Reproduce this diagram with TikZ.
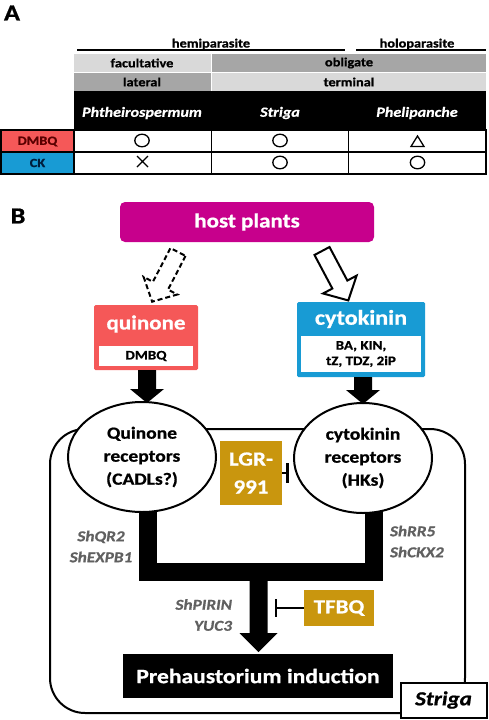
\documentclass[tikz,border=0pt]{standalone}
\usepackage{fontspec}
\setmainfont{Carlito}[FakeStretch=1.15, BoldFeatures={FakeBold=0.8}, BoldItalicFeatures={FakeBold=0.8}]
\usetikzlibrary{calc,shapes.geometric}
\definecolor{hostmag}{RGB}{199,0,140}
\definecolor{quinred}{RGB}{245,88,88}
\definecolor{ckblue}{RGB}{24,155,212}
\definecolor{goldbox}{RGB}{201,150,14}
\definecolor{lgray}{RGB}{217,217,217}
\definecolor{dgray}{RGB}{166,166,166}
\definecolor{genegray}{RGB}{96,96,96}
\definecolor{dmbqtxt}{RGB}{90,0,0}
\definecolor{cktxt}{RGB}{0,30,60}
\newcommand\fsz[2]{\fontsize{#1}{#2}\selectfont}
\begin{document}
\begin{tikzpicture}[x=1pt,y=-1pt,
  every node/.style={inner sep=0pt, outer sep=0pt},
  panel/.style={font=\fsz{23}{26}\bfseries},
  tabtxt/.style={font=\fsz{12.5}{15}\bfseries},
  species/.style={font=\fsz{14}{17}\bfseries\itshape, text=white},
  sym/.style={line width=1.3},
  gene/.style={font=\fsz{15}{21}\bfseries\itshape, text=genegray},
  recep/.style={ellipse, draw, fill=white, line width=2, minimum height=110, align=center, font=\fsz{17}{23}\bfseries},
  goldtag/.style={fill=goldbox, text=white, font=\fsz{20}{28}\bfseries, align=center},
  inhib/.style={line width=2.5},
  hollow/.style={line width=2, fill=white, line join=miter}
]
\useasboundingbox (0,0) rectangle (488,720);

% ---------------- Panel A ----------------
\node[panel] (A) at (12,13) {A};

\draw[line width=2.5] (77,50) -- (345,50);
\draw[line width=2.5] (356,50) -- (486,50);
\node[tabtxt, anchor=base] (hemi) at (211,47.5) {hemiparasite};
\node[tabtxt, anchor=base] (holo) at (417,47.5) {holoparasite};

\fill[lgray] (74,54) rectangle (211,72);
\fill[dgray] (211,54) rectangle (486,72);
\fill[dgray] (74,72) rectangle (211,91);
\fill[lgray] (211,72) rectangle (486,91);
\draw[white, line width=1] (211.5,54) -- (211.5,91);
\draw[white, line width=0.6] (74,72) -- (486,72);
\node[tabtxt] (fac) at (142,63) {facultative};
\node[tabtxt] (obl) at (349,63) {obligate};
\node[tabtxt] (lat) at (142,82) {lateral};
\node[tabtxt] (ter) at (349,82) {terminal};

\fill[black] (74,91) rectangle (486,130);
\node[species] (phth) at (142,113) {Phtheirospermum};
\node[species] (strh) at (280,113) {Striga};
\node[species] (phel) at (417,113) {Phelipanche};

\fill[quinred] (1,130) rectangle (74,152);
\fill[ckblue] (1,152) rectangle (74,174);
\draw[line width=1.5] (1,130) rectangle (486,174);
\draw[line width=1.5] (1,152) -- (486,152);
\draw[line width=1.5] (74,130) -- (74,174);
\draw[line width=1.5] (211.5,130) -- (211.5,174);
\draw[line width=1.5] (348.5,130) -- (348.5,174);
\node[tabtxt, text=dmbqtxt] (rdm) at (37.5,141.5) {DMBQ};
\node[tabtxt, text=cktxt] (rck) at (37.5,163) {CK};

\draw[sym] (142,140.5) ellipse [x radius=7.2, y radius=6.3];
\draw[sym] (280,140.5) ellipse [x radius=7.2, y radius=6.3];
\draw[sym] (411,146.5) -- (424,146.5) -- (417.5,136) -- cycle;
\draw[sym] (137,156) -- (148,167) (137,167) -- (148,156);
\draw[sym] (280,162.5) ellipse [x radius=7.2, y radius=6.3];
\draw[sym] (417.5,162.5) ellipse [x radius=7.2, y radius=6.3];

% ---------------- Panel B ----------------
\node[panel] (B) at (18,216) {B};

\node[fill=hostmag, rounded corners=5, minimum width=254, minimum height=40,
      text=white, font=\fsz{20}{24}\bfseries] (host) at (247,222) {host plants};

% Striga frame
\node[draw, line width=2, rounded corners=35, minimum width=415, minimum height=284] (striga) at (257.5,571) {};

% quinone / cytokinin boxes
\node[fill=quinred, rounded corners=1.5, minimum width=104, minimum height=65] (qbox) at (146,337.5) {};
\node[fill=white, minimum width=94, minimum height=20, font=\fsz{13}{15}\bfseries] (qin) at (146,356) {DMBQ};
\node[text=white, font=\fsz{20}{24}\bfseries] (qtxt) at (146,324) {quinone};

\node[fill=ckblue, rounded corners=1.5, minimum width=128, minimum height=75] (cbox) at (361,339.5) {};
\node[fill=white, minimum width=120, minimum height=36, font=\fsz{13}{15.5}\bfseries, align=center] (cin) at (361,354) {BA, KIN,\\tZ, TDZ, 2iP};
\node[text=white, font=\fsz{21}{24}\bfseries] (ctxt) at (361,319) {cytokinin};

% hollow arrows from host plants
\coordinate (qt) at (178,252);
\coordinate (ct) at (322,251);
\begin{scope}[shift={(qt)}, rotate=242.5]
  \draw[hollow, dash pattern=on 5pt off 3pt] (0,-8.5) -- (38,-8.5) -- (38,-19) -- (56,0) -- (38,19) -- (38,8.5) -- (0,8.5) -- cycle;
\end{scope}
\begin{scope}[shift={(ct)}, rotate=-62]
  \draw[hollow] (0,-8.5) -- (38,-8.5) -- (38,-19) -- (56,0) -- (38,19) -- (38,8.5) -- (0,8.5) -- cycle;
\end{scope}

% receptors (positions needed before the fork)
\path (142,457) coordinate (qellc) (363,458) coordinate (cellc);

% fork of thick black connectors
\coordinate (fl) at (148,500);
\coordinate (fr) at (374,500);
\coordinate (fy) at (0,572);
\draw[line width=18, line join=miter] (fl) -- (fl |- fy) -- (fr |- fy) -- (fr);

\node[fill=black, minimum width=270, minimum height=44, text=white, font=\fsz{20.5}{24}\bfseries] (pre) at (258,676) {Prehaustorium induction};
\coordinate (ma) at (258.5,578);
\coordinate (mb) at ($(pre.north)+(0.5,-2)$);
\fill ($(ma)+(-9,0)$) -- ($(mb)+(-9,-19)$) -- ($(mb)+(-19,-19)$) -- (mb) -- ($(mb)+(19,-19)$) -- ($(mb)+(9,-19)$) -- ($(ma)+(9,0)$) -- cycle;

\node[recep, minimum width=148] (qell) at (qellc) {Quinone\\receptors\\(CADLs?)};
\node[recep, minimum width=138] (cell) at (cellc) {cytokinin\\receptors\\(HKs)};

% black arrows into receptors
\coordinate (qa) at ($(qbox.south)+(1,0)$);
\coordinate (qb) at ($(qa |- qell.north)+(0,1)$);
\fill ($(qa)+(-9,0)$) -- ($(qb)+(-9,-14)$) -- ($(qb)+(-17,-14)$) -- (qb) -- ($(qb)+(17,-14)$) -- ($(qb)+(9,-14)$) -- ($(qa)+(9,0)$) -- cycle;
\coordinate (ca) at ($(cbox.south)+(2,0)$);
\coordinate (cb) at ($(ca |- cell.north)+(0,1)$);
\fill ($(ca)+(-9,0)$) -- ($(cb)+(-9,-14)$) -- ($(cb)+(-17,-14)$) -- (cb) -- ($(cb)+(17,-14)$) -- ($(cb)+(9,-14)$) -- ($(ca)+(9,0)$) -- cycle;

% inhibitors
\node[goldtag, minimum width=62, minimum height=64] (lgr) at (251,473) {LGR-\\991};
\draw[inhib] (lgr.east) -- ++(5.5,0) coordinate (lb);
\draw[inhib] ($(lb)+(0,-10)$) -- ($(lb)+(0,10)$);

\node[goldtag, minimum width=70, minimum height=36] (tfbq) at (339,608) {TFBQ};
\draw[inhib] (tfbq.west) -- ++(-28,0) coordinate (tb);
\draw[inhib] ($(tb)+(0,-9)$) -- ($(tb)+(0,9)$);

% gene labels
\node[gene, align=center] (g1) at (101,546.5) {ShQR2\\ShEXPB1};
\node[gene, align=left, anchor=west] (g2) at (390,541.5) {ShRR5\\ShCKX2};
\node[gene, align=right, anchor=east] (g3) at (232,615) {ShPIRIN\\YUC3};

\node[draw, fill=white, line width=2, minimum width=86, minimum height=35,
      font=\fsz{20}{24}\bfseries\itshape] (slab) at (443.5,700) {Striga};
\end{tikzpicture}
\end{document}
